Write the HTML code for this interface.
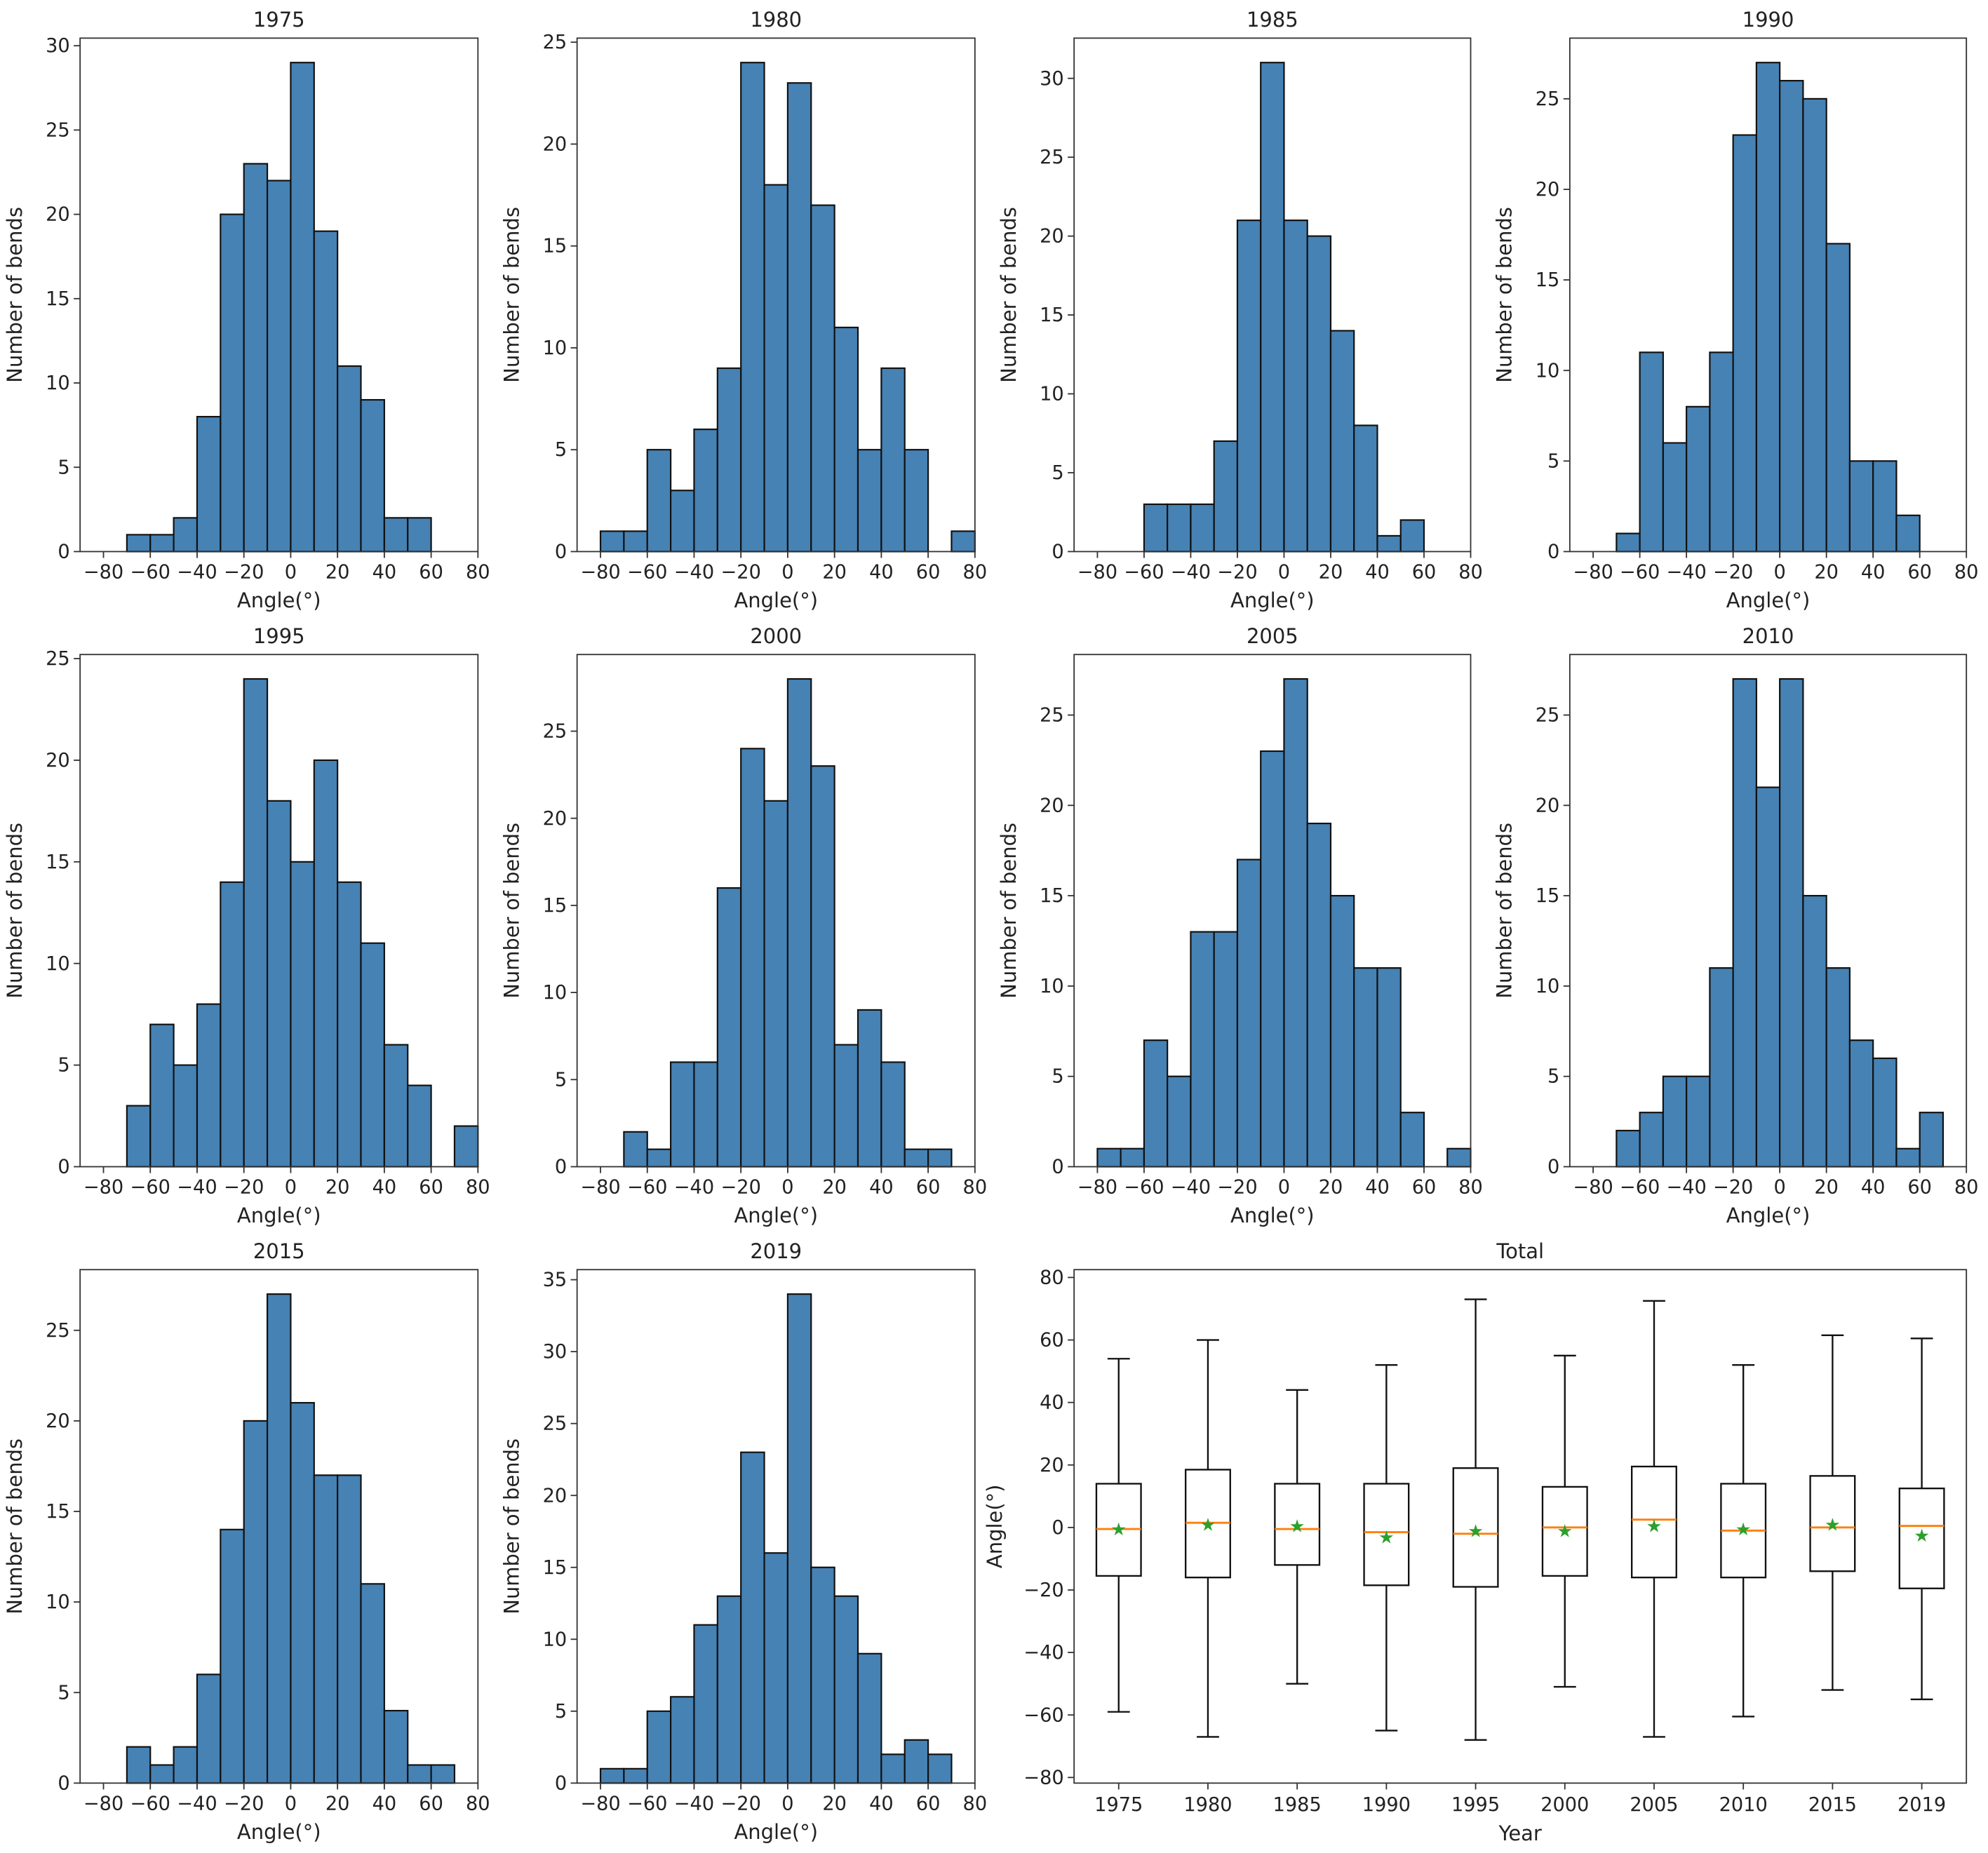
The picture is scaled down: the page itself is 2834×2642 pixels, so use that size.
<!DOCTYPE html>
<html><head><meta charset="utf-8">
<style>
html,body{margin:0;padding:0;background:#fff;}
svg{display:block;}
text{font-family:"DejaVu Sans","Liberation Sans",sans-serif;fill:#222;}
</style></head>
<body>
<svg id="fig" xmlns="http://www.w3.org/2000/svg" width="2834" height="2642" viewBox="0 0 1564 1458" preserveAspectRatio="none"></svg>
<script>
const years = ["1975","1980","1985","1990","1995","2000","2005","2010","2015","2019"];
const binStarts = [-80,-70,-60,-50,-40,-30,-20,-10,0,10,20,30,40,50,60,70];
const c1975 = [0,1,1,2,8,20,23,22,29,19,11,9,2,2,0,0];
const c1980 = [1,1,5,3,6,9,24,18,23,17,11,5,9,5,0,1];
const c1985 = [0,0,3,3,3,7,21,31,21,20,14,8,1,2,0,0];
const c1990 = [0,1,11,6,8,11,23,27,26,25,17,5,5,2,0,0];
const c1995 = [0,3,7,5,8,14,24,18,15,20,14,11,6,4,0,2];
const c2000 = [0,2,1,6,6,16,24,21,28,23,7,9,6,1,1,0];
const c2005 = [1,1,7,5,13,13,17,23,27,19,15,11,11,3,0,1];
const c2010 = [0,2,3,5,5,11,27,21,27,15,11,7,6,1,3,0];
const c2015 = [0,2,1,2,6,14,20,27,21,17,17,11,4,1,1,0];
const c2019 = [1,1,5,6,11,13,23,16,34,15,13,9,2,3,2,0];
const xTicks = [-80,-60,-40,-20,0,20,40,60,80];
const boxLo = [-59,-67,-50,-65,-68,-51,-67,-60.5,-52,-55];
const boxQ1 = [-15.5,-16,-12,-18.5,-19,-15.5,-16,-16,-14,-19.5];
const boxMed = [-0.5,1.5,-0.5,-1.5,-2,0,2.5,-1,0,0.5];
const boxQ3 = [14,18.5,14,14,19,13,19.5,14,16.5,12.5];
const boxHi = [54,60,44,52,73,55,72.5,52,61.5,60.5];
const boxMean = [-0.5,1,0.5,-3,-1,-1,0.5,-0.5,1,-2.5];
const boxYTicks = [-80,-60,-40,-20,0,20,40,60,80];

const NS="http://www.w3.org/2000/svg";
const svg=document.getElementById('fig');
function mk(tag,attrs,parent){const e=document.createElementNS(NS,tag);for(const k in attrs)e.setAttribute(k,attrs[k]);(parent||svg).appendChild(e);return e;}
function txt(s,attrs,parent){const e=mk('text',attrs,parent);e.textContent=s;return e;}
const minus=v=>String(v).replace('-','\u2212');

const counts=[c1975,c1980,c1985,c1990,c1995,c2000,c2005,c2010,c2015,c2019];
const colX=[[63,376],[454,767],[845,1157],[1235,1547]];
const rowY=[[30,434],[515,918],[999,1403]];

counts.forEach((cnt,i)=>{
  const r=Math.floor(i/4), c=i%4;
  const [x0,x1]=colX[c],[y0,y1]=rowY[r];
  const g=mk('g',{});
  
  
  const ymax=Math.max(...cnt)*1.05;
  const sx=v=>x0+(v+90)/170*(x1-x0);
  const sy=v=>y1-v/ymax*(y1-y0);
  cnt.forEach((v,j)=>{
    if(v<=0)return;
    const b=mk('rect',{x:sx(binStarts[j]),y:sy(v),width:sx(binStarts[j]+10)-sx(binStarts[j]),height:y1-sy(v),fill:'#4682b4',stroke:'#111','stroke-width':1.2},g);
    
    
  });
  const fr=mk('rect',{x:x0,y:y0,width:x1-x0,height:y1-y0,fill:'none',stroke:'#333','stroke-width':1},g);
  
  
  xTicks.forEach(t=>{
    mk('line',{x1:sx(t),x2:sx(t),y1:y1,y2:y1+5,stroke:'#333'},g);
    const tl=txt(minus(t),{x:sx(t),y:y1+21,'text-anchor':'middle','font-size':15},g);
    
    
  });
  for(let t=0;t<=ymax;t+=5){
    mk('line',{x1:x0-5,x2:x0,y1:sy(t),y2:sy(t),stroke:'#333'},g);
    const tl=txt(String(t),{x:x0-8,y:sy(t)+5,'text-anchor':'end','font-size':15},g);
    
    
  }
  const ti=txt(years[i],{x:(x0+x1)/2,y:y0-9,'text-anchor':'middle','font-size':16},g);
  
  
  const xl=txt('Angle(°)',{x:(x0+x1)/2,y:y1+44,'text-anchor':'middle','font-size':16},g);
  
  
  const yx=x0-46, yc=(y0+y1)/2;
  const yl=txt('Number of bends',{x:yx,y:yc,'text-anchor':'middle','font-size':16,transform:`rotate(-90 ${yx} ${yc})`},g);
  
  
});

// Boxplot
(function(){
  const x0=845,x1=1547,y0=999,y1=1403;
  const g=mk('g',{});
  
  
  const lo=-81.8, hi=82.5;
  const sx=p=>x0+(p-0.5)/10*(x1-x0);
  const sy=v=>y1-(v-lo)/(hi-lo)*(y1-y0);
  const bw=(x1-x0)/10*0.5, cw=bw/2;
  years.forEach((yr,i)=>{
    const cx=sx(i+1);
    const bg=mk('g',{},g);
    
    
    mk('line',{x1:cx,x2:cx,y1:sy(boxQ3[i]),y2:sy(boxHi[i]),stroke:'#111','stroke-width':1.3},bg);
    mk('line',{x1:cx,x2:cx,y1:sy(boxQ1[i]),y2:sy(boxLo[i]),stroke:'#111','stroke-width':1.3},bg);
    mk('line',{x1:cx-cw/2,x2:cx+cw/2,y1:sy(boxHi[i]),y2:sy(boxHi[i]),stroke:'#111','stroke-width':1.3},bg);
    mk('line',{x1:cx-cw/2,x2:cx+cw/2,y1:sy(boxLo[i]),y2:sy(boxLo[i]),stroke:'#111','stroke-width':1.3},bg);
    mk('rect',{x:cx-bw/2,y:sy(boxQ3[i]),width:bw,height:sy(boxQ1[i])-sy(boxQ3[i]),fill:'none',stroke:'#111','stroke-width':1.3},bg);
    const m=mk('line',{x1:cx-bw/2,x2:cx+bw/2,y1:sy(boxMed[i]),y2:sy(boxMed[i]),stroke:'#ff7f0e','stroke-width':1.6},bg);
    
    
    const st=txt('★',{x:cx,y:sy(boxMean[i])+5,'text-anchor':'middle','font-size':14,style:'fill:#2ca02c'},bg);
    
    
    mk('line',{x1:cx,x2:cx,y1:y1,y2:y1+5,stroke:'#333'},g);
    const tl=txt(yr,{x:cx,y:y1+22,'text-anchor':'middle','font-size':15},g);
    
    
  });
  boxYTicks.forEach(t=>{
    mk('line',{x1:x0-5,x2:x0,y1:sy(t),y2:sy(t),stroke:'#333'},g);
    const tl=txt(minus(t),{x:x0-8,y:sy(t)+5,'text-anchor':'end','font-size':15},g);
    
    
  });
  const fr=mk('rect',{x:x0,y:y0,width:x1-x0,height:y1-y0,fill:'none',stroke:'#333','stroke-width':1},g);
  
  
  const ti=txt('Total',{x:(x0+x1)/2,y:y0-9,'text-anchor':'middle','font-size':16},g);
  
  
  const xl=txt('Year',{x:(x0+x1)/2,y:y1+45,'text-anchor':'middle','font-size':16},g);
  
  
  const yx=x0-57, yc=(y0+y1)/2;
  const yl=txt('Angle(°)',{x:yx,y:yc,'text-anchor':'middle','font-size':16,transform:`rotate(-90 ${yx} ${yc})`},g);
  
  
})();
</script>
</body></html>
